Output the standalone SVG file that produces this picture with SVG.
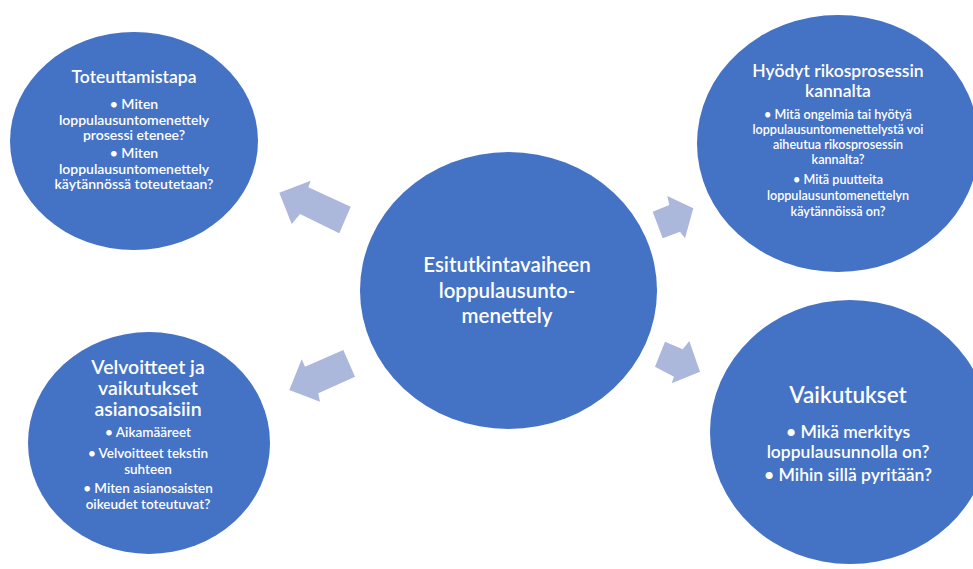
<svg xmlns="http://www.w3.org/2000/svg" width="973" height="569" viewBox="0 0 973 569">
<style>
.c{fill:#4472c4}
.a{fill:#abb7db}
text{font-family:Lato,"Open Sans","Liberation Sans",sans-serif;fill:#ffffff;text-anchor:middle;font-weight:600}
.h1{font-size:17.5px}
.b1{font-size:14px}
.h2{font-size:17.5px}
.b2{font-size:12.6px}
.h3{font-size:20.5px}
.h4{font-size:19.5px}
.b4{font-size:13.5px}
.h5{font-size:22.5px}
.b5{font-size:17.5px}
</style>
<rect width="973" height="569" fill="#ffffff"/>
<g id="connectors">
<polygon class="a" points="279.3,192.7 310.7,180.7 308.3,187.3 350.7,206.7 339.3,233.3 300,214 291.7,224"/>
<polygon class="a" points="289.3,390 301.7,359.3 305,366.7 343.3,350 355,376.7 318.3,393.3 320,401.7"/>
<polygon class="a" points="652.7,211.7 669.3,205 667.3,196 693.3,208.3 685,238.3 680,231.7 662.7,238.3"/>
<polygon class="a" points="665,341.7 682.7,349.3 689.3,341 700,371.7 671.7,383.3 674,376.7 655,366.7"/>
</g>
<g id="toteuttamistapa">
<ellipse class="c" cx="134" cy="141" rx="124" ry="109"/>
<text class="h1" x="134" y="83">Toteuttamistapa</text>
<text class="b1" x="134" y="109">• Miten</text>
<text class="b1" x="134" y="124.5">loppulausuntomenettely</text>
<text class="b1" x="134" y="140">prosessi etenee?</text>
<text class="b1" x="134" y="158">• Miten</text>
<text class="b1" x="134" y="173.5">loppulausuntomenettely</text>
<text class="b1" x="134" y="189">käytännössä toteutetaan?</text>
</g>
<g id="hyodyt">
<ellipse class="c" cx="838" cy="143.5" rx="141" ry="128.5"/>
<text class="h2" x="838" y="77">Hyödyt rikosprosessin</text>
<text class="h2" x="838" y="97">kannalta</text>
<text class="b2" x="838" y="119">• Mitä ongelmia tai hyötyä</text>
<text class="b2" x="838" y="134">loppulausuntomenettelystä voi</text>
<text class="b2" x="838" y="149">aiheutua rikosprosessin</text>
<text class="b2" x="838" y="164">kannalta?</text>
<text class="b2" x="838" y="184">• Mitä puutteita</text>
<text class="b2" x="838" y="200">loppulausuntomenettelyn</text>
<text class="b2" x="838" y="216">käytännöissä on?</text>
</g>
<g id="center">
<ellipse class="c" cx="508.5" cy="290.5" rx="148.5" ry="138.5"/>
<text class="h3" x="507" y="272">Esitutkintavaiheen</text>
<text class="h3" x="507" y="298">loppulausunto-</text>
<text class="h3" x="507" y="323">menettely</text>
</g>
<g id="velvoitteet">
<ellipse class="c" cx="149" cy="443" rx="121" ry="111"/>
<text class="h4" x="148" y="374">Velvoitteet ja</text>
<text class="h4" x="148" y="395">vaikutukset</text>
<text class="h4" x="148" y="416">asianosaisiin</text>
<text class="b4" x="148" y="437">• Aikamääreet</text>
<text class="b4" x="148" y="458">• Velvoitteet tekstin</text>
<text class="b4" x="148" y="474">suhteen</text>
<text class="b4" x="148" y="493">• Miten asianosaisten</text>
<text class="b4" x="148" y="509">oikeudet toteutuvat?</text>
</g>
<g id="vaikutukset">
<ellipse class="c" cx="850" cy="432" rx="140" ry="132"/>
<text class="h5" x="848" y="403">Vaikutukset</text>
<text class="b5" x="848" y="438">• Mikä merkitys</text>
<text class="b5" x="848" y="458">loppulausunnolla on?</text>
<text class="b5" x="848" y="481">• Mihin sillä pyritään?</text>
</g>
</svg>
